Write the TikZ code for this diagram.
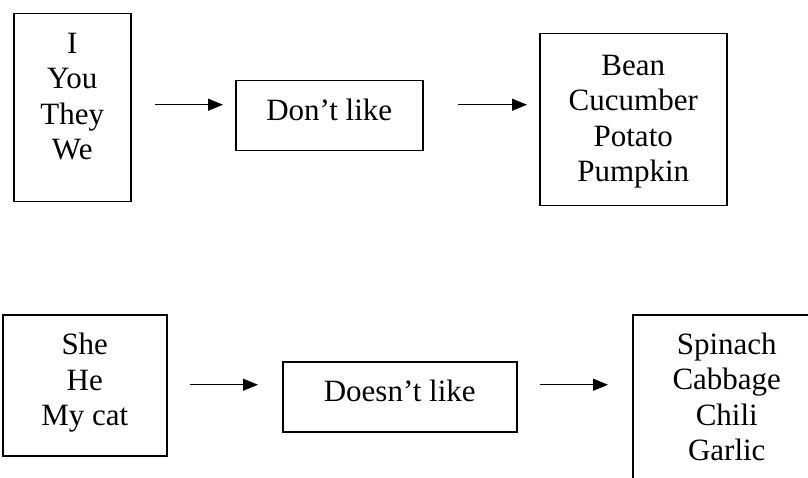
\documentclass[tikz,border=0pt]{standalone}
\usepackage{fontspec}
\setmainfont{Liberation Serif}
\usepackage{tikz}
\usetikzlibrary{arrows.meta}

\begin{document}
\begin{tikzpicture}[
  x=1pt, y=-1pt,
  every node/.style={draw, line width=1.5pt, inner sep=0pt, align=center,
    anchor=north west, font=\fontsize{31}{35.5}\selectfont},
  arrowline/.style={line width=1.3pt, -{Triangle[length=15pt, width=12pt]}}
]
\useasboundingbox (0,0) rectangle (808,478);
\clip (0,0) rectangle (808,478);

% top row
\node[minimum width=117pt, text height=146pt, text depth=42pt] (subjA) at (13,13) {I\\You\\They\\We};
\node[minimum width=187pt, text height=40pt, text depth=30pt] (dontlike) at (235,80) {Don’t like};
\node[minimum width=187pt, text height=148pt, text depth=24pt] (vegA) at (539,33) {Bean\\Cucumber\\Potato\\Pumpkin};

% bottom row
\node[minimum width=164pt, text height=111pt, text depth=30pt] (subjB) at (2,314) {She\\He\\My cat};
\node[minimum width=234pt, text height=40pt, text depth=30pt] (doesntlike) at (282,361) {Doesn’t like};
\node[minimum width=188pt, text height=146pt, text depth=35pt] (vegB) at (632,314) {Spinach\\Cabbage\\Chili\\Garlic};

\draw[arrowline, shorten <=23pt, shorten >=12pt] ([yshift=11pt]subjA.east |- dontlike.west) -- ([yshift=11pt]dontlike.west);
\draw[arrowline, shorten <=34pt, shorten >=12pt] ([yshift=11pt]dontlike.east) -- ([yshift=11pt]vegA.west |- dontlike.east);
\draw[arrowline, shorten <=22pt, shorten >=24pt] ([yshift=12pt]subjB.east |- doesntlike.west) -- ([yshift=12pt]doesntlike.west);
\draw[arrowline, shorten <=22pt, shorten >=24pt] ([yshift=12pt]doesntlike.east) -- ([yshift=12pt]vegB.west |- doesntlike.east);
\end{tikzpicture}
\end{document}
